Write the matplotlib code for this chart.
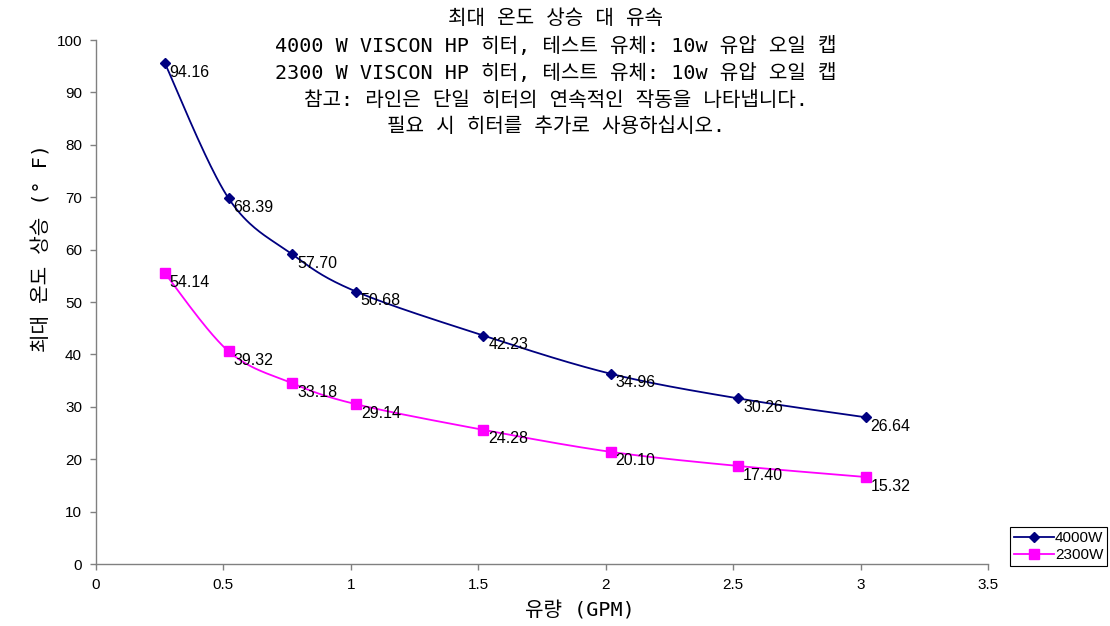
import numpy as np
import matplotlib
matplotlib.use("Agg")
import matplotlib.pyplot as plt

# ---------------- data ----------------
flow_gpm = [0.27, 0.52, 0.77, 1.02, 1.52, 2.02, 2.52, 3.02]
rise_4000 = [95.6, 69.8, 59.1, 52.0, 43.6, 36.3, 31.6, 28.0]
rise_2300 = [55.5, 40.6, 34.5, 30.5, 25.6, 21.4, 18.7, 16.6]
labels_4000 = ["94.16", "68.39", "57.70", "50.68", "42.23", "34.96", "30.26", "26.64"]
labels_2300 = ["54.14", "39.32", "33.18", "29.14", "24.28", "20.10", "17.40", "15.32"]
series_names = ["4000W", "2300W"]
title_lines = [
    "최대 온도 상승 대 유속",
    "4000 W VISCON HP 히터, 테스트 유체: 10w 유압 오일 캡",
    "2300 W VISCON HP 히터, 테스트 유체: 10w 유압 오일 캡",
    "참고: 라인은 단일 히터의 연속적인 작동을 나타냅니다.",
    "필요 시 히터를 추가로 사용하십시오.",
]
x_label = "유량 (GPM)"
y_label = "최대 온도 상승 (° F)"
x_ticks = [0, 0.5, 1, 1.5, 2, 2.5, 3, 3.5]
x_tick_labels = ["0", "0.5", "1", "1.5", "2", "2.5", "3", "3.5"]
y_ticks = [0, 10, 20, 30, 40, 50, 60, 70, 80, 90, 100]

KR = ["DejaVu Sans Mono", "Noto Sans CJK KR"]
plt.rcParams["font.family"] = ["Liberation Sans", "DejaVu Sans"]

W, H = 1110, 626
fig = plt.figure(figsize=(W / 100, H / 100), dpi=100)
ax = fig.add_axes([96 / W, 1 - 564 / H, (988 - 96) / W, (564 - 40) / H])
ax.set_xlim(0, 3.5)
ax.set_ylim(0, 100)


def smooth(xs, ys, n=40):
    # Excel-style smoothed line (Bezier through points), in normalized space
    sx, sy = 3.5, 100.0
    asp = 524 / 892
    P = np.column_stack([np.asarray(xs) / sx, np.asarray(ys) / sy * asp])
    out = []
    for i in range(len(P) - 1):
        p0 = P[i - 1] if i > 0 else P[i]
        p1 = P[i]
        p2 = P[i + 1]
        p3 = P[i + 2] if i + 2 < len(P) else P[i + 1]
        c1 = p1 + (p2 - p0) / 6
        c2 = p2 - (p3 - p1) / 6
        t = np.linspace(0, 1, n)[:, None]
        seg = (1 - t) ** 3 * p1 + 3 * (1 - t) ** 2 * t * c1 + 3 * (1 - t) * t ** 2 * c2 + t ** 3 * p2
        out.append(seg if i == 0 else seg[1:])
    pts = np.vstack(out)
    return pts[:, 0] * sx, pts[:, 1] / asp * sy


series = [
    (rise_4000, labels_4000, "#000080", "D", 5.5),
    (rise_2300, labels_2300, "#FF00FF", "s", 6.5),
]
handles = []
for (vals, labs, col, mk, ms), name in zip(series, series_names):
    sxv, syv = smooth(flow_gpm, vals)
    ax.plot(sxv, syv, color=col, lw=1.3, zorder=2)
    ax.plot(flow_gpm, vals, linestyle="none", marker=mk, ms=ms, color=col, zorder=3)
    h, = ax.plot([], [], color=col, lw=1.3, marker=mk, ms=ms)
    handles.append(h)
    for xv, yv, lab in zip(flow_gpm, vals, labs):
        ax.annotate(lab, (xv, yv), xytext=(3.5, -6.5), textcoords="offset points",
                    ha="left", va="center", fontsize=11.5, color="black", zorder=4)

for s in ["top", "right"]:
    ax.spines[s].set_visible(False)
for s in ["left", "bottom"]:
    ax.spines[s].set_color("#808080")
    ax.spines[s].set_linewidth(1.0)
ax.set_xticks(x_ticks)
ax.set_xticklabels(x_tick_labels)
ax.set_yticks(y_ticks)
ax.tick_params(axis="both", direction="out", length=4, width=1, color="#808080",
               labelsize=11, labelcolor="black", pad=6)

# titles and axis labels
title_y = [18, 46, 73, 100, 127]
for line, yy in zip(title_lines, title_y):
    fig.text(556 / W, 1 - yy / H, line, ha="center", va="center", fontsize=14.5,
             family=KR, color="black")
fig.text(580 / W, 1 - 610 / H, x_label, ha="center", va="center", fontsize=14.5,
         family=KR)
fig.text(42 / W, 1 - 248 / H, y_label, ha="center", va="center", fontsize=14.5,
         family=KR, rotation=90)

leg = fig.legend(handles, series_names, loc="lower left",
                 bbox_to_anchor=(1010 / W, 1 - 566 / H), fontsize=11,
                 frameon=True, fancybox=False, edgecolor="black", framealpha=1,
                 handlelength=2.6, handletextpad=0.1, borderpad=0.25,
                 labelspacing=0.2, borderaxespad=0)
leg.get_frame().set_linewidth(0.8)

fig.savefig("out.png", dpi=100)
